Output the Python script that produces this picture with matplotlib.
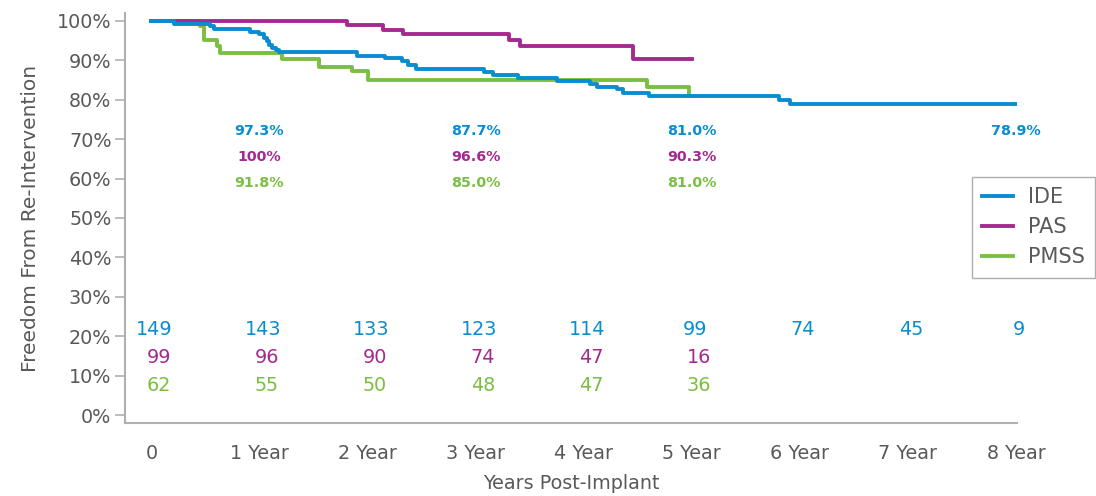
"""再介入回避率のKaplan-Meier曲線（IDE / PAS / PMSS）。"""
import matplotlib

matplotlib.use("Agg")
import matplotlib.pyplot as plt

plt.rcParams["font.family"] = ["DejaVu Sans"]

# 曲線データ（年, 再介入回避率%）
ide_t = [0, 0.21, 0.54, 0.58, 0.91, 1.00, 1.04, 1.07, 1.09, 1.12, 1.15, 1.18, 1.90, 2.16,
         2.32, 2.37, 2.45, 3.08, 3.16, 3.39, 3.75, 4.06, 4.12, 4.31, 4.36, 4.60, 5.81, 5.91, 8.0]
ide_s = [100, 99.3, 98.8, 98.0, 97.3, 96.7, 95.7, 94.8, 94.0, 93.2, 92.6, 92.0, 91.2, 90.6,
         89.8, 88.9, 87.7, 87.0, 86.3, 85.5, 84.8, 84.0, 83.3, 82.6, 81.7, 81.0, 80.0, 78.9, 78.9]
pas_t = [0, 1.81, 2.14, 2.33, 3.31, 3.41, 4.46, 5.0]
pas_s = [100, 99.0, 97.8, 96.6, 95.2, 93.7, 90.3, 90.3]
pmss_t = [0, 0.45, 0.49, 0.61, 0.63, 1.21, 1.55, 1.86, 2.0, 4.59, 4.97, 5.0]
pmss_s = [100, 98.6, 95.2, 93.7, 91.8, 90.4, 88.4, 87.2, 85.0, 83.2, 81.0, 81.0]

# 注記（各年の推定値）
pct_years = [1, 3, 5, 8]
ide_pct = ["97.3%", "87.7%", "81.0%", "78.9%"]
pas_pct = ["100%", "96.6%", "90.3%"]
pmss_pct = ["91.8%", "85.0%", "81.0%"]

# リスク集合数
risk_years = [0, 1, 2, 3, 4, 5, 6, 7, 8]
ide_n = [149, 143, 133, 123, 114, 99, 74, 45, 9]
pas_n = [99, 96, 90, 74, 47, 16]
pmss_n = [62, 55, 50, 48, 47, 36]

tick_labels = ["0", "1 Year", "2 Year", "3 Year", "4 Year", "5 Year", "6 Year", "7 Year", "8 Year"]

BLUE = "#0a8dcf"
PURPLE = "#a52a8f"
GREEN = "#7abf43"
GRAY = "#58595b"
AXIS = "#b0b0b0"
FS = 13.8

fig = plt.figure(figsize=(10.96, 4.96), dpi=100)
ax = fig.add_axes([0.1143, 0.1466, 0.8137, 0.8264])

ax.step(pmss_t, pmss_s, where="post", color=GREEN, lw=2.8, label="PMSS", zorder=3)
ax.step(pas_t, pas_s, where="post", color=PURPLE, lw=2.8, label="PAS", zorder=4)
ax.step(ide_t, ide_s, where="post", color=BLUE, lw=2.8, label="IDE", zorder=5)

ax.set_xlim(-0.242, 8.01)
ax.set_ylim(-2.1, 101.9)
ax.set_yticks(range(0, 101, 10))
ax.set_yticklabels([f"{v}%" for v in range(0, 101, 10)])
ax.set_xticks(risk_years)
ax.set_xticklabels(tick_labels)
ax.tick_params(axis="y", colors=AXIS, labelcolor=GRAY, labelsize=FS, length=7, width=1.2, pad=3)
ax.tick_params(axis="x", length=0, labelcolor=GRAY, labelsize=FS, pad=15)
for side in ("top", "right"):
    ax.spines[side].set_visible(False)
for side in ("left", "bottom"):
    ax.spines[side].set_color(AXIS)
    ax.spines[side].set_linewidth(1.5)

ax.set_ylabel("Freedom From Re-Intervention", color=GRAY, fontsize=14.5, labelpad=12)
ax.set_xlabel("Years Post-Implant", color=GRAY, fontsize=FS, labelpad=8)

for rows, color, y in ((ide_pct, BLUE, 72.1), (pas_pct, PURPLE, 65.5), (pmss_pct, GREEN, 58.9)):
    for yr, txt in zip(pct_years, rows):
        ax.text(yr, y, txt, color=color, fontsize=10.3, fontweight="bold", ha="center", va="center")

for yr, n in zip(risk_years, ide_n):
    ax.text(yr + 0.03, 21.8, str(n), color=BLUE, fontsize=FS, ha="center", va="center")
for rows, color, y in ((pas_n, PURPLE, 14.7), (pmss_n, GREEN, 7.5)):
    for yr, n in zip(risk_years, rows):
        ax.text(yr + 0.18, y, str(n), color=color, fontsize=FS, ha="right", va="center")

handles, labels = ax.get_legend_handles_labels()
order = [2, 1, 0]
leg = fig.legend([handles[i] for i in order], [labels[i] for i in order],
                 loc="upper right", bbox_to_anchor=(0.9995, 0.643), fontsize=15,
                 frameon=True, fancybox=False, handlelength=1.45, handletextpad=0.75,
                 borderpad=0.5, borderaxespad=0.0, labelspacing=0.48, labelcolor=GRAY)
leg.get_frame().set_edgecolor("#9a9a9a")
leg.get_frame().set_linewidth(1.0)

fig.savefig("out.png", dpi=100)
plt.close(fig)
